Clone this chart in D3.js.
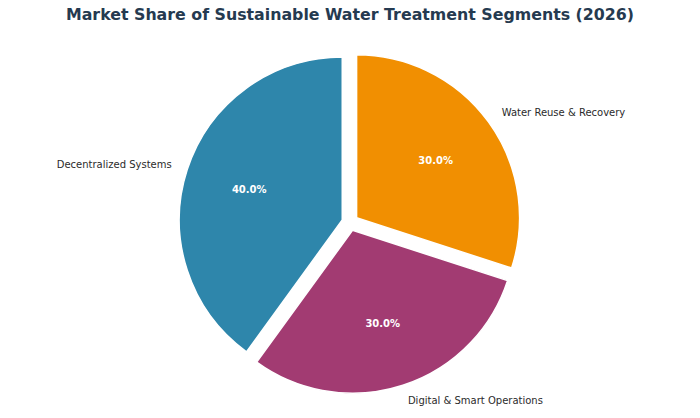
<!DOCTYPE html>
<html>
<head>
<meta charset="utf-8">
<script src="https://cdn.jsdelivr.net/npm/d3@7"></script>
<style>
  body { margin: 0; background: #fff; }
  svg { font-family: "DejaVu Sans", sans-serif; }
</style>
</head>
<body>
<div id="chart"></div>
<script>
// data
var categories = ["Water Reuse & Recovery", "Digital & Smart Operations", "Decentralized Systems"];
var shares = [30, 30, 40];
var colors = ["#F18F01", "#A23B72", "#2E86AB"];

var width = 700, height = 418;
var cx = 350, cy = 222.5;
var radius = 163;
var explode = 0.05 * radius;

var svg = d3.select('#chart')
    .append('svg')
    .attr('width', width)
    .attr('height', height)
    ;

svg.append('text')
    .attr('x', width / 2)
    .attr('y', 20)
    .attr('text-anchor', 'middle')
    .attr('font-size', 15.8)
    .attr('font-weight', 'bold')
    .attr('fill', '#253a50')
    .text('Market Share of Sustainable Water Treatment Segments (2026)')
    ;

var pie = d3.pie().sort(null).value(function(d) { return d; });
var arcs = pie(shares);
var total = d3.sum(shares);

var arc = d3.arc().innerRadius(0).outerRadius(radius);

var chart = svg.append('g')
    .attr('transform', 'translate(' + cx + ',' + cy + ')')
    ;

var slices = chart.selectAll('.slice')
    .data(arcs)
    .enter()
    .append('g')
    .attr('class', 'slice')
    .attr('transform', function(d) {
        var mid = (d.startAngle + d.endAngle) / 2;
        return 'translate(' + (explode * Math.sin(mid)) + ',' + (-explode * Math.cos(mid)) + ')';
    })
    ;

slices.append('path')
    .attr('d', arc)
    .attr('fill', function(d, i) { return colors[i]; })
    .attr('stroke', '#fff')
    .attr('stroke-width', 1.5)
    .attr('stroke-linejoin', 'miter')
    ;

// category labels at 1.1 r
slices.append('text')
    .attr('x', function(d) { return 1.1 * radius * Math.sin((d.startAngle + d.endAngle) / 2); })
    .attr('y', function(d) { return -1.1 * radius * Math.cos((d.startAngle + d.endAngle) / 2); })
    .attr('dy', '0.35em')
    .attr('text-anchor', function(d) { return Math.sin((d.startAngle + d.endAngle) / 2) > 0 ? 'start' : 'end'; })
    .attr('font-size', 10)
    .attr('fill', '#2b2b2b')
    .text(function(d, i) { return categories[i]; })
    ;

// percentages at 0.6 r
slices.append('text')
    .attr('x', function(d) { return 0.6 * radius * Math.sin((d.startAngle + d.endAngle) / 2); })
    .attr('y', function(d) { return -0.6 * radius * Math.cos((d.startAngle + d.endAngle) / 2); })
    .attr('dy', '0.35em')
    .attr('text-anchor', 'middle')
    .attr('font-size', 10)
    .attr('font-weight', 'bold')
    .attr('fill', '#fff')
    .text(function(d) { return (100 * d.value / total).toFixed(1) + '%'; })
    ;
</script>
</body>
</html>
